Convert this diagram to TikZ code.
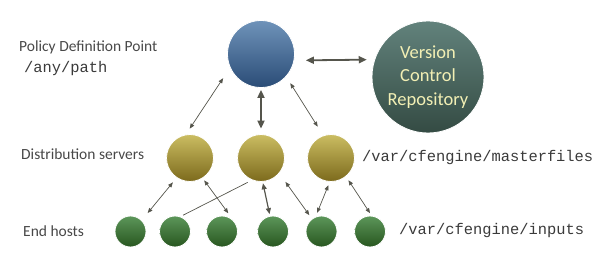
\documentclass[tikz,border=0pt]{standalone}
\usepackage{fontspec}
\setmainfont{Carlito}
\newfontfamily\pathfont{Liberation Mono}
\usetikzlibrary{arrows.meta}
\definecolor{labelgray}{HTML}{484848}
\definecolor{pathgray}{HTML}{3A3A3A}
\definecolor{arrowgray}{HTML}{55554C}
\definecolor{vcrtext}{HTML}{F2EFB4}
\definecolor{pdptop}{HTML}{6F93B9}
\definecolor{pdpbot}{HTML}{2A4C77}
\definecolor{vcrtop}{HTML}{62827C}
\definecolor{vcrbot}{HTML}{344B43}
\definecolor{disttop}{HTML}{CBBD62}
\definecolor{distbot}{HTML}{7C6A1C}
\definecolor{hosttop}{HTML}{5C965A}
\definecolor{hostbot}{HTML}{28561F}
\tikzset{
  ball/.style={circle, inner sep=0pt, draw=white, line width=0.8pt},
  pdp/.style={ball, minimum size=67pt, top color=pdptop, bottom color=pdpbot},
  vcr/.style={ball, minimum size=112pt, top color=vcrtop, bottom color=vcrbot,
    text=vcrtext, font=\fontsize{18.5}{23.5}\selectfont, align=center},
  dist/.style={ball, minimum size=47pt, top color=disttop, bottom color=distbot},
  host/.style={ball, minimum size=31pt, top color=hosttop, bottom color=hostbot},
  lbl/.style={anchor=west, text=labelgray, font=\fontsize{15.5}{18}\selectfont, inner sep=0pt},
  pth/.style={anchor=west, text=pathgray, font=\pathfont\fontsize{15.4}{18}\selectfont, inner sep=0pt},
  thinarrow/.style={draw=arrowgray, line width=0.7pt, {Triangle[length=5pt,width=4pt]}-{Triangle[length=5pt,width=4pt]}},
  midarrow/.style={draw=arrowgray, line width=1.2pt, {Triangle[length=6pt,width=5pt]}-{Triangle[length=6pt,width=5pt]}},
  thickarrow/.style={draw=arrowgray, line width=1.8pt, {Triangle[length=8pt,width=7pt]}-{Triangle[length=8pt,width=7pt]}},
  plainline/.style={draw=arrowgray, line width=0.7pt}
}
\begin{document}
\begin{tikzpicture}[x=1pt, y=-1pt]
\useasboundingbox (0,0) rectangle (600,264);
% circles
\node[pdp] (top) at (261,54) {};
\node[vcr] (repo) at (428,77) {Version\\Control\\Repository};
\node[dist] (d1) at (190,158) {};
\node[dist] (d2) at (261,158) {};
\node[dist] (d3) at (331,158) {};
\node[host] (h1) at (130.5,231.5) {};
\node[host] (h2) at (175,231.5) {};
\node[host] (h3) at (222,231.5) {};
\node[host] (h4) at (273,231.5) {};
\node[host] (h5) at (321.5,231.5) {};
\node[host] (h6) at (370,231.5) {};
% labels
\node[lbl] (l1) at (19,47) {Policy Definition Point};
\node[pth] (p1) at (24,69) {/any/path};
\node[lbl] (l2) at (21,154) {Distribution servers};
\node[pth] (p2) at (362,158) {/var/cfengine/masterfiles};
\node[lbl] (l3) at (23,231) {End hosts};
\node[pth] (p3) at (399,231) {/var/cfengine/inputs};
% connectors
\draw[thickarrow, shorten <=11.6pt, shorten >=7.6pt] (top.349.5) -- (repo.162.3);
\draw[thinarrow, shorten <=12.5pt, shorten >=7pt] (top.204) -- (d1.100);
\draw[thickarrow, shorten <=2pt, shorten >=5.5pt] (top.south) -- (d2.north);
\draw[thinarrow, shorten <=7.7pt, shorten >=10.3pt] (top.318) -- (d3.109);
\draw[thinarrow, shorten <=5.9pt, shorten >=9.3pt] (d1.236) -- (h1.45);
\draw[thinarrow, shorten <=2.6pt, shorten >=9.7pt] (d1.302) -- (h3.41);
\draw[plainline, shorten <=4.8pt, shorten >=3pt] (d2.248) -- (h2.70);
\draw[midarrow, shorten <=1.5pt, shorten >=1.8pt] (d2.274) -- (h4.101);
\draw[thinarrow, shorten <=10.5pt, shorten >=4.5pt] (d2.320) -- (h5.127);
\draw[thinarrow, shorten <=3.7pt, shorten >=4.2pt] (d3.267) -- (h5.112);
\draw[thinarrow, shorten <=4.4pt, shorten >=3pt] (d3.309) -- (h6.84);
\end{tikzpicture}
\end{document}
